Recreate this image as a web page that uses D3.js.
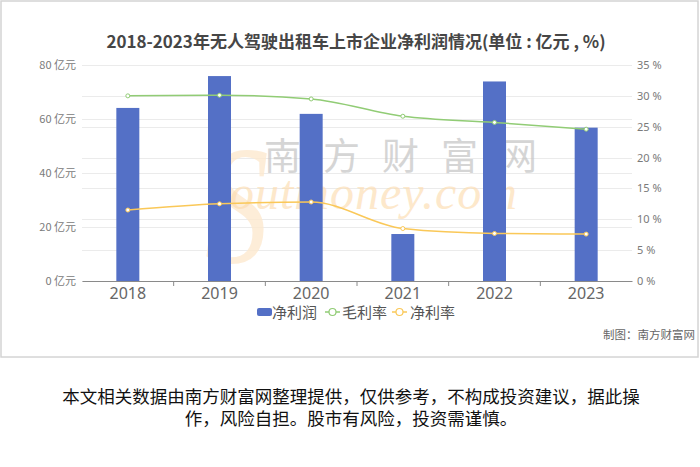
<!DOCTYPE html>
<html><head><meta charset="utf-8">
<script src="https://cdn.jsdelivr.net/npm/d3@7"></script>
<style>body{margin:0;background:#fff}svg{display:block;font-family:"Noto Sans CJK SC","Noto Sans",sans-serif}</style>
</head><body>
<svg id="c" width="700" height="467"></svg>
<script>
const years = ["2018","2019","2020","2021","2022","2023"];
const netProfit = [64.1, 75.9, 61.9, 17.4, 73.9, 56.8];
const grossMargin = [30.0, 30.1, 29.5, 26.7, 25.7, 24.6];
const netMargin = [11.5, 12.5, 12.8, 8.5, 7.7, 7.6];
const leftTicks = [0, 20, 40, 60, 80];
const rightTicks = [0, 5, 10, 15, 20, 25, 30, 35];
const seriesNames = ["净利润", "毛利率", "净利率"];
const colors = ["#5470c6", "#91cc75", "#fac858"];
const titleText = "2018-2023年无人驾驶出租车上市企业净利润情况(单位 : 亿元 , %)";
const creditText = "制图：南方财富网";
const disclaimer = ["本文相关数据由南方财富网整理提供，仅供参考，不构成投资建议，据此操", "作，风险自担。股市有风险，投资需谨慎。"];

const svg = d3.select("#c");
svg.append("rect").attr("width",700).attr("height",467).attr("fill","#fff");
svg.append("rect").attr("x",1).attr("y",1).attr("width",697).attr("height",356)
  .attr("fill","none").attr("stroke","#d4d4d4").attr("stroke-width",1.5);

const L = 82, R = 632, T = 65, B = 281;
const x = d3.scaleBand().domain(years).range([L, R]);
const yL = d3.scaleLinear().domain([0, 80]).range([B, T]);
const yR = d3.scaleLinear().domain([0, 35]).range([B, T]);

// title
svg.append("text").attr("x",356).attr("y",48).attr("text-anchor","middle")
  .attr("font-size",17).attr("font-weight","bold").attr("fill","#464646").text(titleText);

// grid
const g = svg.append("g");
g.selectAll(".gl").data(leftTicks).join("line")
  .attr("x1",L).attr("x2",R).attr("y1",d=>Math.round(yL(d))+0.5).attr("y2",d=>Math.round(yL(d))+0.5)
  .attr("stroke","#ebebeb");
g.selectAll(".gr").data(rightTicks).join("line")
  .attr("x1",L).attr("x2",R).attr("y1",d=>Math.round(yR(d))+0.5).attr("y2",d=>Math.round(yR(d))+0.5)
  .attr("stroke","#ebebeb");

// watermark
const wm = svg.append("g");
wm.append("text").attr("transform","translate(205,262) scale(0.75,1)").attr("font-family","Liberation Serif, serif")
  .attr("font-style","italic").attr("font-size",170).attr("fill","#fde9cf").attr("opacity",0.8).text("S");
wm.append("text").attr("x",264).attr("y",170).attr("font-size",37).attr("letter-spacing",22)
  .attr("fill","#c4c4c4").attr("opacity",0.7).text("南方财富网");
wm.append("text").attr("x",230).attr("y",209).attr("font-family","Liberation Serif, serif")
  .attr("font-style","italic").attr("font-size",48).attr("letter-spacing",1).attr("fill","#fcdcb0").attr("opacity",0.65).text("outmoney.com");

// axes
const axL = svg.append("g").attr("transform",`translate(${L},0)`)
  .call(d3.axisLeft(yL).tickValues(leftTicks).tickSize(0).tickPadding(6).tickFormat(d=>d+" 亿元"));
axL.select(".domain").remove();
axL.selectAll("text").attr("font-size",11).attr("fill","#7a7a7a").attr("font-family","'Noto Sans CJK SC',sans-serif");

const axR = svg.append("g").attr("transform",`translate(${R},0)`)
  .call(d3.axisRight(yR).tickValues(rightTicks).tickSize(0).tickPadding(5).tickFormat(d=>d+" %"));
axR.select(".domain").remove();
axR.selectAll("text").attr("font-size",11).attr("fill","#7a7a7a").attr("font-family","'Noto Sans',sans-serif");

const axB = svg.append("g").attr("transform",`translate(0,${B})`)
  .call(d3.axisBottom(x).tickSize(0).tickPadding(7));
axB.select(".domain").attr("stroke","#8a8a8a");
axB.selectAll("text").attr("font-size",16).attr("fill","#666").attr("font-family","'Noto Sans',sans-serif");
axB.selectAll(".btick").data(years.slice(1)).join("line")
  .attr("x1",d=>x(d)).attr("x2",d=>x(d)).attr("y1",0).attr("y2",5).attr("stroke","#8a8a8a");

// bars
const bw = 23;
svg.append("g").selectAll("rect").data(years).join("rect")
  .attr("x",(d)=>x(d)+x.bandwidth()/2-bw/2).attr("width",bw)
  .attr("y",(d,i)=>yL(netProfit[i])).attr("height",(d,i)=>B-yL(netProfit[i]))
  .attr("fill",colors[0]);

// lines
function drawLine(vals, color){
  const line = d3.line().x((d,i)=>x(years[i])+x.bandwidth()/2).y(d=>yR(d)).curve(d3.curveMonotoneX);
  svg.append("path").datum(vals).attr("d",line).attr("fill","none").attr("stroke",color).attr("stroke-width",1.5);
  svg.append("g").selectAll("circle").data(vals).join("circle")
    .attr("cx",(d,i)=>x(years[i])+x.bandwidth()/2).attr("cy",d=>yR(d)).attr("r",2)
    .attr("fill","#fff").attr("stroke",color).attr("stroke-width",1);
}
drawLine(grossMargin, colors[1]);
drawLine(netMargin, colors[2]);

// legend
const lg = svg.append("g").attr("font-size",15).attr("fill","#555");
lg.append("rect").attr("x",257).attr("y",308).attr("width",15).attr("height",8).attr("rx",2).attr("fill",colors[0]);
lg.append("text").attr("x",272).attr("y",317.5).text(seriesNames[0]);
[[325,colors[1],seriesNames[1],342],[392,colors[2],seriesNames[2],410]].forEach(([ix,c,t,tx])=>{
  lg.append("line").attr("x1",ix).attr("x2",ix+15).attr("y1",312).attr("y2",312).attr("stroke",c).attr("stroke-width",1.5);
  lg.append("circle").attr("cx",ix+7.5).attr("cy",312).attr("r",3.5).attr("fill","#fff").attr("stroke",c).attr("stroke-width",1.2);
  lg.append("text").attr("x",tx).attr("y",317.5).text(t);
});

// credit
svg.append("text").attr("x",695).attr("y",339).attr("text-anchor","end").attr("font-size",11.5)
  .attr("fill","#666").text(creditText);

// disclaimer
svg.append("g").selectAll("text").data(disclaimer).join("text")
  .attr("x",351).attr("y",(d,i)=>403+i*22).attr("text-anchor","middle")
  .attr("font-size",17.5).attr("fill","#111").text(d=>d);
</script>
</body></html>
